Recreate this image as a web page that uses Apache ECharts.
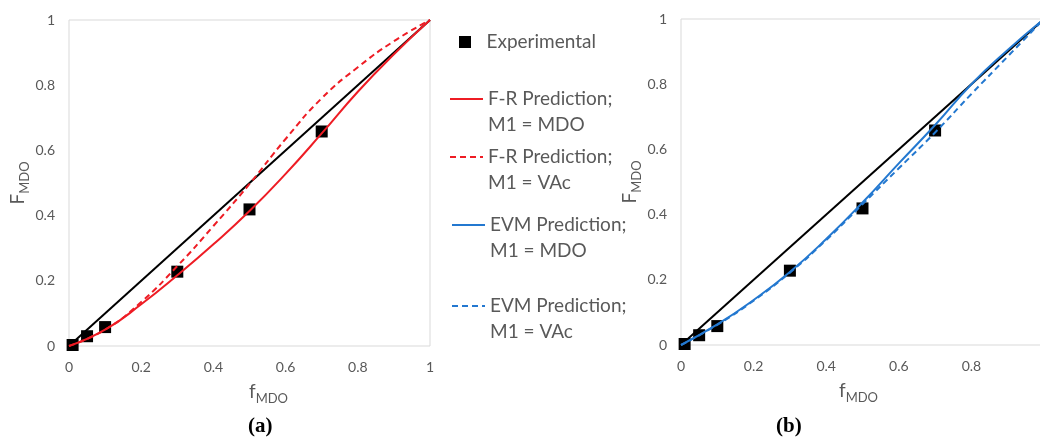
<!DOCTYPE html>
<html>
<head>
<meta charset="utf-8">
<script src="https://cdn.jsdelivr.net/npm/echarts@6/dist/echarts.min.js"></script>
<style>html,body{margin:0;padding:0;background:#fff}#c{width:1040px;height:439px}</style>
</head>
<body>
<div id="c"></div>
<script>
// ---- data ----
const expX = [0.01, 0.05, 0.1, 0.3, 0.5, 0.7];
const expY = [0.003, 0.03, 0.058, 0.228, 0.419, 0.658];

const predX = [0, 0.1, 0.2, 0.3, 0.4, 0.5, 0.6, 0.7, 0.8, 0.9, 1];
const frMdoY = [0, 0.05, 0.128, 0.217, 0.312, 0.414, 0.528, 0.652, 0.78, 0.895, 1];
const frVacY = [0, 0.05, 0.135, 0.245, 0.368, 0.497, 0.635, 0.76, 0.855, 0.935, 1];
const evmMdoY = [0, 0.063, 0.138, 0.224, 0.325, 0.437, 0.557, 0.675, 0.8, 0.905, 1];
const evmVacY = [0, 0.062, 0.136, 0.222, 0.322, 0.432, 0.542, 0.652, 0.77, 0.885, 1];

const diagX = [0, 1];
const diagY = [0, 1];

const axisTicks = [0, 0.2, 0.4, 0.6, 0.8, 1];

const names = {
  exp: 'Experimental',
  frMdo: 'F-R Prediction; M1 = MDO',
  frVac: 'F-R Prediction; M1 = VAc',
  evmMdo: 'EVM Prediction; M1 = MDO',
  evmVac: 'EVM Prediction; M1 = VAc'
};

// ---- helpers ----
const zip = (xs, ys) => xs.map((x, i) => [x, ys[i]]);
const FONT = 'Lato';
const GREY = '#595959';
const RED = '#ee1c24';
const BLUE = '#2378d0';

const nameRich = {
  F: { fontSize: 19, color: GREY, fontFamily: FONT },
  s: { fontSize: 13, color: GREY, fontFamily: FONT, padding: [14, 0, 0, 0] }
};
const labelFmt = v => String(axisTicks.find(t => Math.abs(t - v) < 1e-9) ?? v);

function xAxis(idx, shift) {
  return {
    type: 'value', gridIndex: idx, min: 0, max: 1, interval: 0.2,
    name: '{F|f}{s|MDO}', nameLocation: 'middle', nameGap: 32,
    nameTextStyle: { rich: nameRich, padding: shift > 0 ? [0, 0, 0, shift] : [0, -shift, 0, 0] },
    axisLine: { show: false }, axisTick: { show: false }, splitLine: { show: false },
    axisLabel: { color: GREY, fontSize: 14, fontFamily: FONT, margin: 14, formatter: labelFmt }
  };
}
function yAxis(idx, gap) {
  return {
    type: 'value', gridIndex: idx, min: 0, max: 1, interval: 0.2,
    name: '{F|F}{s|MDO}', nameLocation: 'middle', nameGap: gap,
    nameTextStyle: { rich: nameRich },
    axisLine: { show: false }, axisTick: { show: false }, splitLine: { show: false },
    axisLabel: { color: GREY, fontSize: 14, fontFamily: FONT, margin: 14, formatter: labelFmt }
  };
}
function diag(idx) {
  return { type: 'line', name: 'diag' + idx, xAxisIndex: idx, yAxisIndex: idx,
    data: zip(diagX, diagY), symbol: 'none', z: 1,
    lineStyle: { color: '#000', width: 2 }, silent: true };
}
function expSeries(idx) {
  return { type: 'scatter', name: names.exp, xAxisIndex: idx, yAxisIndex: idx,
    data: zip(expX, expY), symbol: 'rect', symbolSize: 12, z: 2,
    itemStyle: { color: '#000', opacity: 1 } };
}
function pred(idx, name, ys, color, dashed) {
  return { type: 'line', name: name, xAxisIndex: idx, yAxisIndex: idx,
    data: zip(predX, ys), symbol: 'none', smooth: 0.5, z: 3,
    itemStyle: { color: color },
    lineStyle: { color: color, width: 2, type: dashed ? [6, 4] : 'solid' } };
}
function legend(name, left, top) {
  const isExp = name === names.exp;
  return {
    data: [isExp ? { name: name, icon: 'path://M0,0h12v12h-12z' } : name],
    left: left, top: top, padding: 0, orient: 'vertical',
    itemWidth: 33, itemHeight: 12, selectedMode: false,
    itemStyle: isExp ? { color: '#000', opacity: 1 } : { opacity: 0 },
    formatter: n => isExp ? n : '\n' + n.replace('; ', ';\n'),
    textStyle: { color: GREY, fontSize: 19, fontFamily: FONT, lineHeight: 26 }
  };
}
function caption(letter, left) {
  return {
    text: '{p|(}{b|' + letter + '}{p|)}', left: left, top: 416, padding: 0,
    textStyle: { rich: {
      p: { fontFamily: 'Liberation Serif', fontSize: 21, color: '#000' },
      b: { fontFamily: 'Liberation Serif', fontSize: 21, fontWeight: 'bold', color: '#000' }
    } }
  };
}

const chart = echarts.init(document.getElementById('c'), null, { renderer: 'canvas' });
chart.setOption({
  animation: false,
  backgroundColor: '#fff',
  title: [caption('a', 248), caption('b', 776)],
  grid: [
    { left: 69, top: 20, width: 361, height: 326, show: true, borderColor: '#d9d9d9', borderWidth: 1, outerBoundsMode: 'none', containLabel: false },
    { left: 681, top: 19, width: 363, height: 326, show: true, borderColor: '#d9d9d9', borderWidth: 1, outerBoundsMode: 'none', containLabel: false }
  ],
  xAxis: [xAxis(0, 38), xAxis(1, -8)],
  yAxis: [yAxis(0, 27), yAxis(1, 30)],
  legend: [
    legend(names.exp, 459, 29),
    legend(names.frMdo, 449, 60),
    legend(names.frVac, 449, 118),
    legend(names.evmMdo, 451, 186),
    legend(names.evmVac, 451, 267)
  ],
  series: [
    diag(0), expSeries(0),
    pred(0, names.frMdo, frMdoY, RED, false),
    pred(0, names.frVac, frVacY, RED, true),
    diag(1), expSeries(1),
    pred(1, names.evmMdo, evmMdoY, BLUE, false),
    pred(1, names.evmVac, evmVacY, BLUE, true)
  ]
});
</script>
</body>
</html>
